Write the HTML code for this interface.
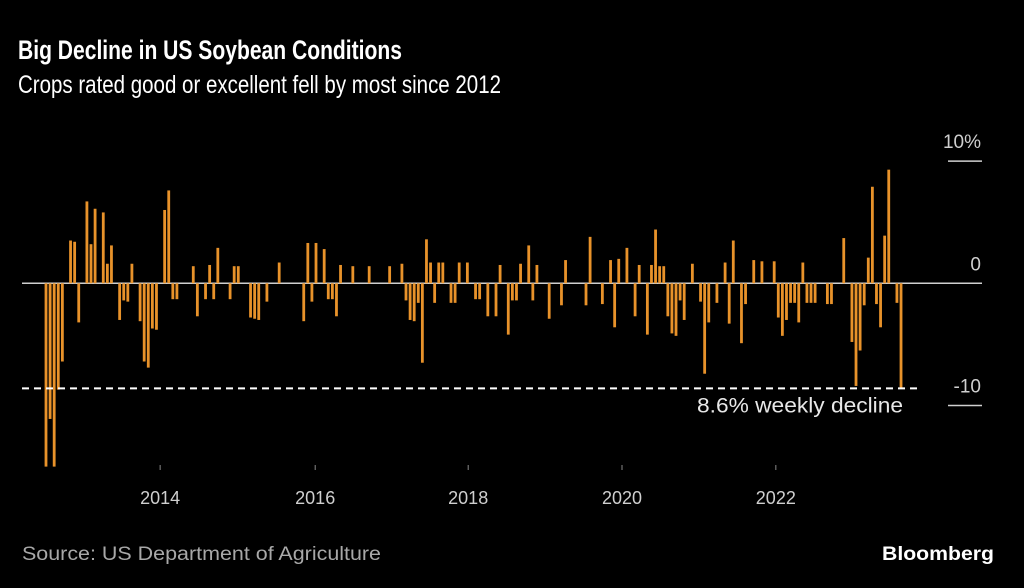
<!DOCTYPE html>
<html><head><meta charset="utf-8"><style>
html,body{margin:0;padding:0;background:#000;}
svg{display:block;font-family:"Liberation Sans",sans-serif;}
</style></head><body>
<svg id="chart" width="1024" height="588" viewBox="0 0 1024 588">
<rect width="1024" height="588" fill="#000"/>
<text x="18" y="59" font-size="27" font-weight="bold" fill="#fff" textLength="384" lengthAdjust="spacingAndGlyphs">Big Decline in US Soybean Conditions</text>
<text x="18" y="93" font-size="25" fill="#fff" textLength="483" lengthAdjust="spacingAndGlyphs">Crops rated good or excellent fell by most since 2012</text>
<g id="grid"></g>
<g id="bars"></g>
<g id="annot"></g>
<g id="xaxis"></g>
<text x="22" y="560" font-size="19" fill="#a8a8a8" textLength="359" lengthAdjust="spacingAndGlyphs">Source: US Department of Agriculture</text>
<text x="994" y="560" font-size="19" font-weight="bold" fill="#fff" text-anchor="end" textLength="112" lengthAdjust="spacingAndGlyphs">Bloomberg</text>
</svg>
<script>
const weekValues = [-15.0,-11.1,-15.0,-8.7,-6.4,0,3.5,3.4,-3.2,0,6.7,3.2,6.1,0,5.8,1.6,3.1,0,-3.0,-1.4,-1.5,1.6,0,-3.1,-6.4,-6.9,-3.7,-3.8,0,6.0,7.6,-1.3,-1.3,0,0,0,1.4,-2.7,0,-1.3,1.5,-1.3,2.9,0,0,-1.3,1.4,1.4,0,0,-2.8,-2.9,-3.0,0,-1.5,0,0,1.7,0,0,0,0,0,-3.1,3.3,-1.5,3.3,0,2.8,-1.3,-1.3,-2.7,1.5,0,0,1.4,0,0,0,1.4,0,0,0,0,1.4,0,0,1.6,-1.4,-3.0,-3.1,-1.6,-6.5,3.6,1.7,-1.6,1.7,1.7,0,-1.6,-1.6,1.7,0,1.7,0,-1.3,-1.3,0,-2.7,0,-2.7,1.5,0,-4.2,-1.4,-1.4,1.6,0,3.1,-1.4,1.5,0,0,-2.9,0,0,-1.8,1.9,0,0,0,0,-1.8,3.8,0,0,-1.7,0,1.9,-3.6,2.0,0,2.9,0,-2.7,1.5,0,-4.2,1.5,4.4,1.4,1.4,-2.7,-4.1,-4.3,-1.4,-3.0,0,1.6,0,-1.5,-7.4,-3.2,0,-1.6,0,1.7,-3.3,3.5,0,-4.9,-1.7,0,1.9,0,1.8,0,0,1.8,-2.8,-4.3,-3.0,-1.6,-1.6,-3.2,1.7,-1.6,-1.6,-1.6,0,0,-1.7,-1.7,0,0,3.7,0,-4.8,-8.4,-5.5,-1.8,2.1,7.9,-1.7,-3.6,3.9,9.3,0,-1.6,-8.6];
const yTicks = [10, 0, -10];
const yTickLabels = ["10%", "0", "-10"];
const xTickPos = [27.9, 65.8, 103.2, 140.8, 178.4];
const xTickLabels = ["2014", "2016", "2018", "2020", "2022"];
const markerValue = [-8.6];
const markerLabel = ["8.6% weekly decline"];

const NS = "http://www.w3.org/2000/svg";
const x = i => 46 + i * 4.091;
const y = v => 283.3 - v * 12.22;
function mk(tag, attrs, parent) {
  const e = document.createElementNS(NS, tag);
  for (const k in attrs) e.setAttribute(k, attrs[k]);
  parent.appendChild(e);
  return e;
}
const grid = document.getElementById("grid");
yTicks.forEach((t, i) => {
  const ln = mk("line", {x1: t === 0 ? 22 : 948, x2: 982, y1: y(t), y2: y(t), stroke: "#cfcfcf", "stroke-width": 1.5}, grid);
  
  
  const tx = mk("text", {x: 981, y: y(t) - 13, "font-size": 19, fill: "#cfcfcf", "text-anchor": "end"}, grid);
  tx.textContent = yTickLabels[i];
  
  
});
const bars = document.getElementById("bars");
weekValues.forEach((v, i) => {
  if (v === 0) return;
  const r = mk("rect", {x: x(i) - 1.4, y: Math.min(y(v), y(0)), width: 2.8, height: Math.abs(y(v) - y(0)), fill: "#e8922a"}, bars);
  
  
});
const annot = document.getElementById("annot");
const dl = mk("line", {x1: 22, x2: 922, y1: y(markerValue[0]), y2: y(markerValue[0]), stroke: "#fff", "stroke-width": 2, "stroke-dasharray": "7 5"}, annot);


const at = mk("text", {x: 903, y: y(markerValue[0]) + 24, "font-size": 21, fill: "#e8e8e8", "text-anchor": "end", textLength: 206, lengthAdjust: "spacingAndGlyphs"}, annot);
at.textContent = markerLabel[0];


const xa = document.getElementById("xaxis");
xTickPos.forEach((p, i) => {
  const tk = mk("line", {x1: x(p), x2: x(p), y1: 465, y2: 470, stroke: "#888", "stroke-width": 1}, xa);
  
  
  const tl = mk("text", {x: x(p), y: 504, "font-size": 18, fill: "#cfcfcf", "text-anchor": "middle"}, xa);
  tl.textContent = xTickLabels[i];
  
  
});
</script>
</body></html>
